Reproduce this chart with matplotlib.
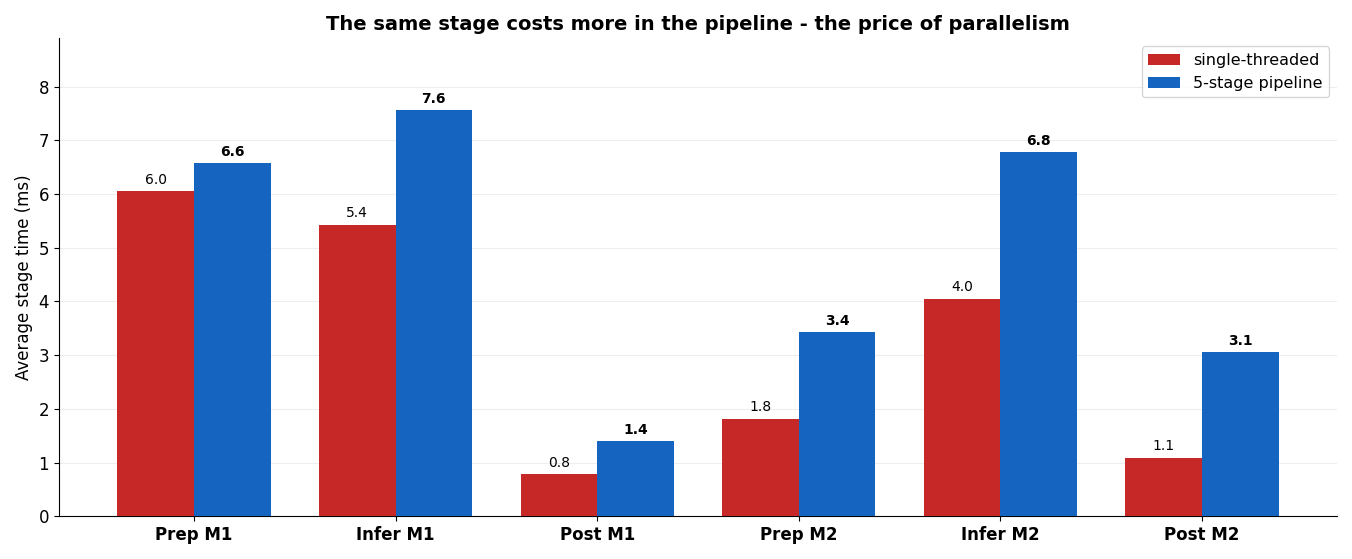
import matplotlib.pyplot as plt
import numpy as np

stages = ['Prep M1', 'Infer M1', 'Post M1', 'Prep M2', 'Infer M2', 'Post M2']
single = [6.05, 5.43, 0.78, 1.82, 4.05, 1.09]
pipeline = [6.57, 7.56, 1.40, 3.43, 6.78, 3.06]

x = np.arange(len(stages))
w = 0.38

fig, ax = plt.subplots(figsize=(13.52, 5.59), dpi=100)
b1 = ax.bar(x - w / 2, single, w, color='#c62828', label='single-threaded', zorder=3)
b2 = ax.bar(x + w / 2, pipeline, w, color='#1565c0', label='5-stage pipeline', zorder=3)

for r, v in zip(b1, single):
    ax.text(r.get_x() + r.get_width() / 2, v + 0.08, f'{v:.1f}', ha='center', va='bottom', fontsize=10)
for r, v in zip(b2, pipeline):
    ax.text(r.get_x() + r.get_width() / 2, v + 0.08, f'{v:.1f}', ha='center', va='bottom',
            fontsize=10, fontweight='bold')

ax.set_xticks(x)
ax.set_xticklabels(stages, fontsize=12, fontweight='bold')
ax.tick_params(axis='y', labelsize=12)
ax.set_ylabel('Average stage time (ms)', fontsize=12)
ax.set_ylim(0, 8.9)
ax.set_xlim(-0.67, 5.67)
ax.set_title('The same stage costs more in the pipeline - the price of parallelism',
             fontsize=14, fontweight='bold')
ax.yaxis.grid(True, color='#eeeeee', zorder=0)
ax.spines['top'].set_visible(False)
ax.spines['right'].set_visible(False)
ax.legend(loc='upper right', fontsize=11.5)

plt.tight_layout()
plt.savefig('out.png')
